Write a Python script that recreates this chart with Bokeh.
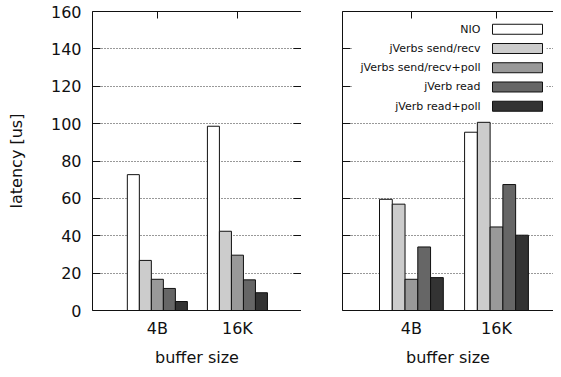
from bokeh.plotting import figure
from bokeh.models import FixedTicker, LinearAxis, Range1d, ColumnDataSource
from bokeh.layouts import row
from bokeh.core.properties import value
from bokeh.embed import file_html
from bokeh.resources import INLINE

groups = ["4B", "16K"]
series = ["NIO", "jVerbs send/recv", "jVerbs send/recv+poll", "jVerb read", "jVerb read+poll"]
colors = ["#ffffff", "#cccccc", "#999999", "#666666", "#333333"]

# left panel values (latency in us)
left_nio = [72.7, 98.6]
left_sr = [26.8, 42.4]
left_srp = [16.7, 29.6]
left_rd = [11.8, 16.4]
left_rdp = [4.8, 9.5]

# right panel values
right_nio = [59.5, 95.4]
right_sr = [56.9, 100.7]
right_srp = [16.7, 44.7]
right_rd = [34.0, 67.4]
right_rdp = [17.6, 40.3]

y_ticks = list(range(0, 161, 20))
FONT = "DejaVu Sans"
BAR_W = 0.15
INK = "#111111"
H = 369


def hidden_axis(ticks, tick_in):
    return LinearAxis(ticker=FixedTicker(ticks=ticks, minor_ticks=[]),
                      major_tick_in=tick_in, major_tick_out=0,
                      major_label_text_font_size="1px", major_label_text_color=None,
                      major_label_standoff=0)


def make_panel(series_vals, width, min_left, x_end, ylabels, right_border):
    p = figure(width=width, height=H, output_backend="svg", toolbar_location=None,
               x_range=Range1d(-0.81, x_end), y_range=Range1d(0, 160),
               min_border_left=min_left, min_border_right=0,
               min_border_top=11, min_border_bottom=55)
    p.outline_line_color = None
    p.background_fill_color = "white"
    p.border_fill_color = "white"

    for i, (vals, col) in enumerate(zip(series_vals, colors)):
        off = (i - 2) * BAR_W
        src = ColumnDataSource(dict(x=[g + off for g in range(len(groups))], top=vals))
        p.vbar(x="x", top="top", width=BAR_W, source=src, fill_color=col,
               line_color=INK, line_width=1)

    xa = p.xaxis[0]
    xa.ticker = FixedTicker(ticks=list(range(len(groups))), minor_ticks=[])
    xa.major_label_overrides = {i: g for i, g in enumerate(groups)}
    xa.major_tick_in = 0
    xa.major_tick_out = 0
    xa.major_label_standoff = 8
    xa.axis_label = "buffer size"
    xa.axis_label_standoff = 7
    xa.major_label_text_font_size = "16px"

    ya = p.yaxis[0]
    ya.ticker = FixedTicker(ticks=y_ticks, minor_ticks=[])
    ya.major_tick_in = 8
    ya.major_tick_out = 0
    if ylabels:
        ya.axis_label = "latency [us]"
        ya.major_label_standoff = 11
        ya.axis_label_standoff = 22
        ya.major_label_text_font_size = "16px"
    else:
        ya.major_label_text_font_size = "1px"
        ya.major_label_text_color = None
        ya.major_label_standoff = 0

    ta = hidden_axis(list(range(len(groups))), 7)
    p.add_layout(ta, "above")
    axes = [xa, ya, ta]
    if right_border:
        ra = hidden_axis(y_ticks, 8)
        p.add_layout(ra, "right")
        axes.append(ra)

    for a in axes:
        a.axis_line_color = INK
        a.axis_line_width = 1
        a.major_tick_line_color = INK
        a.major_label_text_font = FONT
        a.axis_label_text_font = FONT
        a.axis_label_text_font_style = "normal"
        a.axis_label_text_font_size = "16px"
        a.axis_label_text_color = INK
    xa.major_label_text_color = INK
    if ylabels:
        ya.major_label_text_color = INK

    p.xgrid.visible = False
    p.ygrid.ticker = FixedTicker(ticks=y_ticks)
    p.ygrid.grid_line_color = "#333333"
    p.ygrid.grid_line_dash = "1 2"
    p.ygrid.grid_line_width = 1
    return p


left = make_panel([left_nio, left_sr, left_srp, left_rd, left_rdp],
                  width=301, min_left=92, x_end=1.80, ylabels=True, right_border=True)
right = make_panel([right_nio, right_sr, right_srp, right_rd, right_rdp],
                   width=252, min_left=41, x_end=1.67, ylabels=False, right_border=False)

# legend (gnuplot style: label right-aligned, swatch to the right)
right.quad(left=[-0.7], right=[1.588], bottom=[104], top=[158],
           fill_color="white", line_color=None)
leg_y = [150.5 - i * 10.3 for i in range(len(series))]
right.text(x=[0.812] * len(series), y=leg_y, text=series,
           text_font=value(FONT), text_font_size="11px", text_align="right",
           text_baseline="middle", text_color=INK)
right.rect(x=[1.247] * len(series), y=leg_y, width=50, height=10,
           width_units="screen", height_units="screen",
           fill_color=colors, line_color=INK, line_width=1)

layout = row(left, right)
open("out.html", "w").write(file_html(layout, INLINE))
